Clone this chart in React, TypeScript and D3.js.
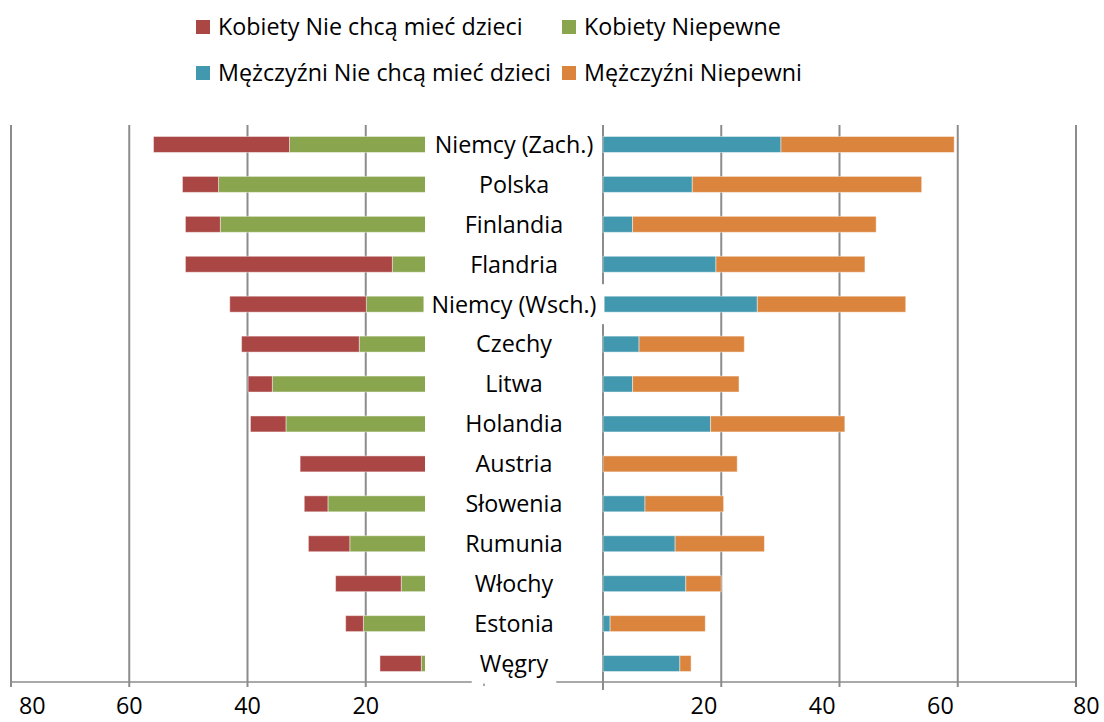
import React, { useRef, useEffect } from 'react';
import * as d3 from 'd3';

// kraje (od góry)
const categories = [
  'Niemcy (Zach.)', 'Polska', 'Finlandia', 'Flandria', 'Niemcy (Wsch.)', 'Czechy', 'Litwa',
  'Holandia', 'Austria', 'Słowenia', 'Rumunia', 'Włochy', 'Estonia', 'Węgry',
];
// kobiety (lewa strona)
const womenNoKids = [23.0, 6.1, 5.9, 35.0, 23.1, 19.9, 4.1, 6.0, 31.1, 4.0, 7.0, 11.1, 3.0, 7.0];
const womenUnsure = [32.9, 44.9, 44.6, 15.5, 19.9, 21.1, 35.8, 33.5, 0, 26.4, 22.7, 14.0, 20.4, 10.6];
// mężczyźni (prawa strona)
const menNoKids = [30.1, 15.1, 5.0, 19.1, 26.1, 6.1, 5.0, 18.2, 0, 7.1, 12.2, 14.0, 1.2, 13.0];
const menUnsure = [29.3, 38.8, 41.2, 25.2, 25.1, 17.8, 18.0, 22.7, 22.7, 13.3, 15.1, 6.0, 16.1, 1.9];

const ticks = [20, 40, 60, 80];
const legendLabels = [
  'Kobiety Nie chcą mieć dzieci', 'Kobiety Niepewne',
  'Mężczyźni Nie chcą mieć dzieci', 'Mężczyźni Niepewni',
];
const colors = ['#AA4643', '#89A54E', '#4198AF', '#DB843D'];

const FONT = '"Open Sans", Lato, sans-serif';
const FS = 23.3;
const W = 1104;
const H = 722;

export default function App() {
  const ref = useRef<SVGSVGElement>(null);

  useEffect(() => {
    const svg = d3.select(ref.current);
    svg.selectAll('*').remove();

    const top = 124.5;
    const bottom = 683.5;
    const axisY = 682;

    const xL = d3.scaleLinear().domain([0, 80]).range([484, 11]);
    const xR = d3.scaleLinear().domain([0, 80]).range([603, 1076]);
    const y = d3.scaleBand<string>().domain(categories).range([top, bottom])
      .paddingInner(0.6).paddingOuter(0.3);

    const rows = categories.map((c, i) => ({
      c, wNo: womenNoKids[i], wUn: womenUnsure[i], mNo: menNoKids[i], mUn: menUnsure[i],
    }));

    // siatka
    const grid = svg.append('g').attr('stroke', '#8c8c8c').attr('stroke-width', 2);
    ticks.forEach(t => {
      grid.append('line').attr('x1', xL(t)).attr('x2', xL(t)).attr('y1', 125).attr('y2', axisY + 5);
      grid.append('line').attr('x1', xR(t)).attr('x2', xR(t)).attr('y1', 125).attr('y2', axisY + 5);
    });
    grid.append('line').attr('x1', xR(0)).attr('x2', xR(0)).attr('y1', 125).attr('y2', axisY + 8);

    // oś dolna
    svg.append('line').attr('x1', xL(80)).attr('x2', xR(80)).attr('y1', axisY).attr('y2', axisY)
      .attr('stroke', '#8c8c8c').attr('stroke-width', 1.5);
    svg.append('line').attr('x1', xL(0)).attr('x2', xL(0)).attr('y1', axisY).attr('y2', axisY + 4)
      .attr('stroke', '#8c8c8c').attr('stroke-width', 1.5);

    // lewa strona ucięta na 10
    svg.append('clipPath').attr('id', 'leftClip').append('rect')
      .attr('x', 0).attr('y', 0).attr('width', xL(10)).attr('height', H);

    const leftStack = d3.stack<any>().keys(['wUn', 'wNo'])(rows);
    const rightStack = d3.stack<any>().keys(['mNo', 'mUn'])(rows);

    svg.append('g').attr('clip-path', 'url(#leftClip)')
      .selectAll('g').data(leftStack).join('g')
      .attr('fill', (d, i) => colors[i === 0 ? 1 : 0])
      .selectAll('rect').data(d => d).join('rect')
      .attr('x', d => xL(d[1]))
      .attr('width', d => Math.max(0, xL(d[0]) - xL(d[1])))
      .attr('y', d => y(d.data.c)!)
      .attr('height', y.bandwidth())
      .attr('stroke', 'rgba(255,255,255,0.45)').attr('stroke-width', 1);

    svg.append('g')
      .selectAll('g').data(rightStack).join('g')
      .attr('fill', (d, i) => colors[i === 0 ? 2 : 3])
      .selectAll('rect').data(d => d).join('rect')
      .attr('x', d => xR(d[0]))
      .attr('width', d => Math.max(0, xR(d[1]) - xR(d[0])))
      .attr('y', d => y(d.data.c)!)
      .attr('height', y.bandwidth())
      .attr('stroke', 'rgba(255,255,255,0.45)').attr('stroke-width', 1);

    // etykiety krajów na białym tle
    const cx = 514;
    const lab = svg.append('g').selectAll('g').data(categories).join('g');
    const boxes = lab.append('rect').attr('fill', '#fff');
    const texts = lab.append('text')
      .attr('x', cx)
      .attr('y', d => y(d)! + y.bandwidth() / 2)
      .attr('dy', '0.36em')
      .attr('text-anchor', 'middle')
      .attr('font-family', FONT).attr('font-size', FS).attr('fill', '#000')
      .text(d => d);
    texts.each(function (d, i) {
      const w = (this as SVGTextElement).getComputedTextLength();
      d3.select(boxes.nodes()[i])
        .attr('x', cx - w / 2 - 8).attr('width', w + 16)
        .attr('y', y(d)! + y.bandwidth() / 2 - y.step() / 2).attr('height', y.step());
    });

    // opisy osi
    const tl = svg.append('g').attr('font-family', FONT).attr('font-size', FS).attr('fill', '#000');
    ticks.forEach(t => {
      tl.append('text').attr('x', t === 80 ? xL(t) + 8 : xL(t)).attr('y', 706).attr('dy', '0.36em')
        .attr('text-anchor', t === 80 ? 'start' : 'middle').text(t);
      tl.append('text').attr('x', t === 80 ? xR(t) - 3 : xR(t) - 4).attr('y', 706).attr('dy', '0.36em')
        .attr('text-anchor', t === 80 ? 'start' : 'end').text(t);
    });

    // legenda
    const lg = svg.append('g').attr('font-family', FONT).attr('font-size', FS);
    legendLabels.forEach((l, i) => {
      const lx = i % 2 === 0 ? 196 : 562;
      const ly = i < 2 ? 27 : 73;
      lg.append('rect').attr('x', lx).attr('y', ly - 7).attr('width', 14).attr('height', 14)
        .attr('fill', colors[i]);
      lg.append('text').attr('x', lx + 22).attr('y', ly).attr('dy', '0.36em').text(l);
    });
  }, []);

  return (
    <div style={{ position: 'absolute', top: 0, left: 0 }}>
      <svg ref={ref} width={W} height={H} style={{ display: 'block', background: '#fff' }} />
    </div>
  );
}
